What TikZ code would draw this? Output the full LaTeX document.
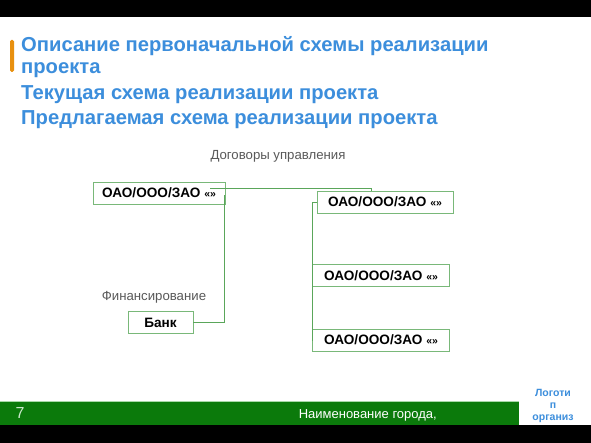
\documentclass[tikz,border=0pt]{standalone}
\usepackage{fontspec}
\setmainfont{Liberation Sans}
\usetikzlibrary{calc}
\definecolor{ttl}{HTML}{3C8EDC}
\definecolor{gtxt}{HTML}{595959}
\definecolor{bx}{HTML}{79B879}
\definecolor{ln}{HTML}{5AA65A}
\definecolor{barg}{HTML}{0B7A0B}
\definecolor{barl}{HTML}{A8D8A8}
\definecolor{orn}{HTML}{E8900F}
\newcommand{\orgname}{ОАО/ООО/ЗАО {\fontsize{10.5}{12}\selectfont «»}}
\tikzset{
  org/.style={draw=bx, line width=0.9pt, fill=white, inner sep=0pt, font=\bfseries\fontsize{13.6}{16}\selectfont},
  conn/.style={draw=ln, line width=0.9pt},
  lbl/.style={text=gtxt, font=\fontsize{13.2}{15}\selectfont, inner sep=0pt},
  ttlline/.style={text=ttl, anchor=west, inner sep=0pt, font=\bfseries\fontsize{20.2}{24}\selectfont},
  logo/.style={text=ttl, inner sep=0pt, font=\bfseries\fontsize{10.5}{12}\selectfont}
}
\begin{document}
\begin{tikzpicture}[x=1pt,y=-1pt]
\useasboundingbox (0,0) rectangle (591,443);
\fill[white] (0,0) rectangle (591,443);
% top and bottom bands
\fill[black] (0,0) rectangle (591,17);
\fill[black] (0,425) rectangle (591,443);
% footer bar
\fill[barg] (0,401) rectangle (519,425);
\draw[barl, line width=1pt] (0,401) -- (519,401);
\node[text=barl!60!white, font=\fontsize{16}{18}\selectfont, inner sep=0pt] (pg) at (20,413) {7};
\node[text=white, font=\fontsize{13}{16}\selectfont, inner sep=0pt, anchor=east] (city) at (437,415) {Наименование города,};
\node[logo] (lg1) at (553,393) {Логоти};
\node[logo] (lg2) at (553,406) {п};
\node[logo] (lg3) at (553,419) {организ};
% title
\fill[orn, rounded corners=1.5pt] (10,40) rectangle (14,72);
\node[ttlline] (t1) at (21,46) {Описание первоначальной схемы реализации};
\node[ttlline] (t2) at (21,70) {проекта};
\node[ttlline] (t3) at (21,95) {Текущая схема реализации проекта};
\node[ttlline] (t4) at (21,120) {Предлагаемая схема реализации проекта};
% labels
\node[lbl] (dog) at (278,156) {Договоры управления};
\node[lbl] (fin) at (154,297) {Финансирование};
% boxes
\node[org, minimum width=132pt, minimum height=22pt] (b1) at (159,193) {\orgname};
\node[org, minimum width=136pt, minimum height=22pt] (b2) at (385,202) {\orgname};
\node[org, minimum width=137pt, minimum height=22pt] (b3) at (381,275.5) {\orgname};
\node[org, minimum width=137pt, minimum height=22pt] (b4) at (381,340) {\orgname};
\node[org, minimum width=65pt, minimum height=22pt] (bank) at (160.5,322.5) {Банк};
% connectors
\coordinate (b2top) at ($(b2.north west)+(55,0)$);
\draw[conn] ($(b1.north east)+(-15,7)$) -| (b2top);
\draw[conn] (bank.east) -| ($(b1.south east)+(-1,-9)$);
\draw[conn] (b2.west) -- ++(-4,0) coordinate (bus) |- (b4.west);
\draw[conn] (bus |- b3.west) -- (b3.west);
\end{tikzpicture}
\end{document}
